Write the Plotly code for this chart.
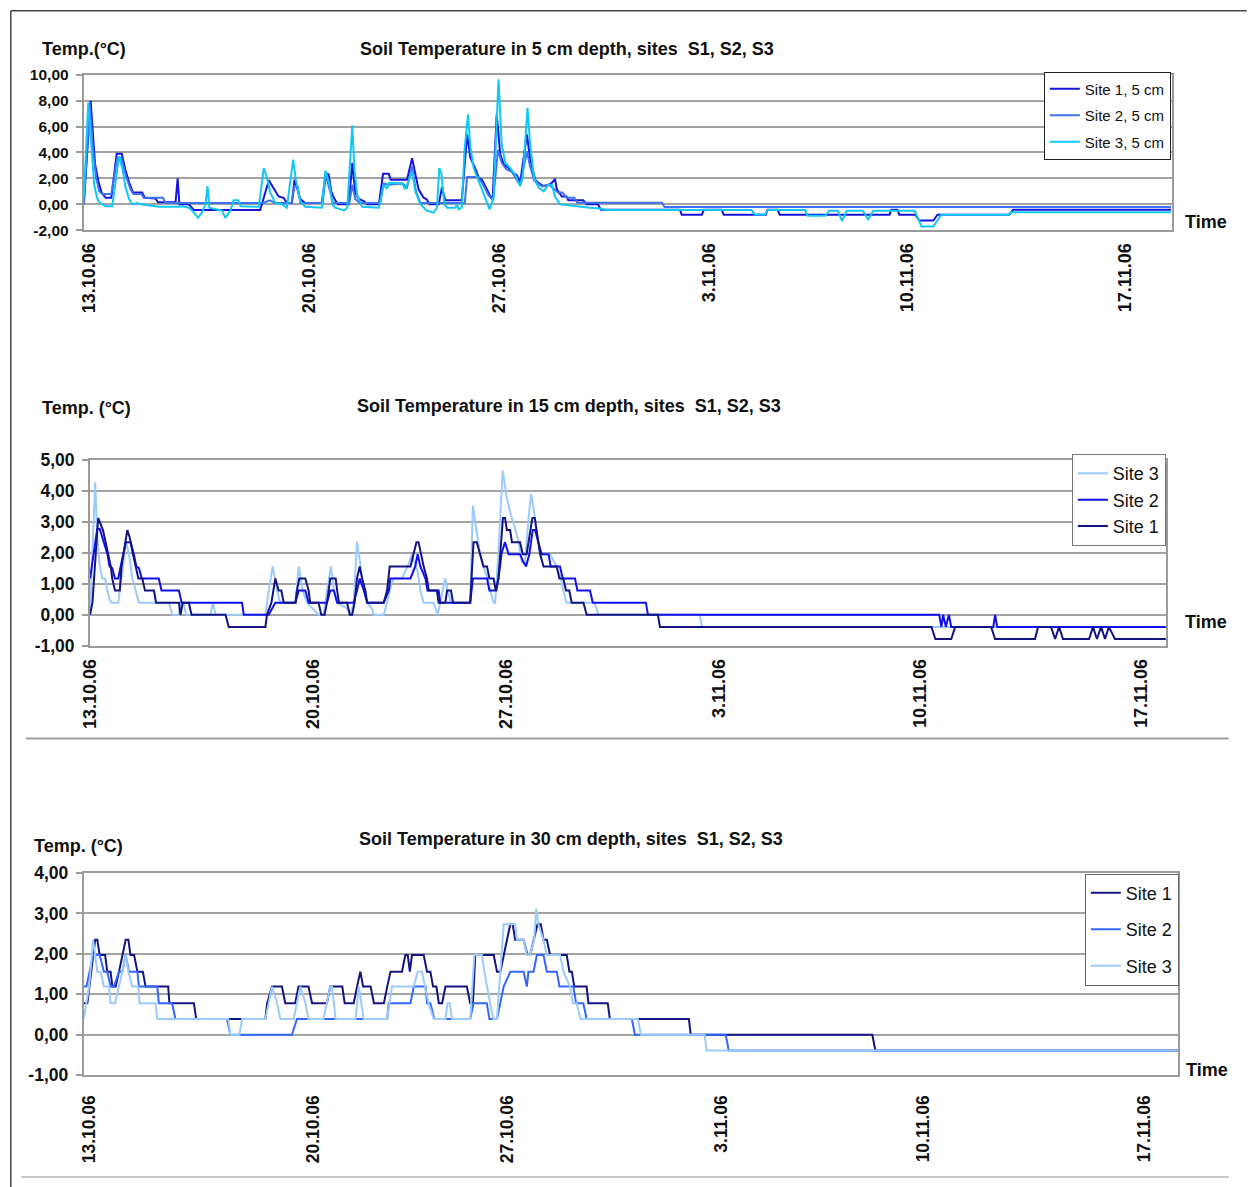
import plotly.graph_objects as go

# Measured in the previous renders: a figure pixel (fx, fy) lands on the photo at
# (OX + SX*fx, OY + SY*fy).  All layout positions below are reference-photo pixels and
# are converted through this mapping.
OX, OY, SX, SY = 8.8, 10.5, 0.994, 0.982
W, H = 1247, 1198
FONT = "Liberation Sans, Arial, sans-serif"

# ---------------- shared x-axis labels (category positions) ----
TICK_POS = [0, 7.43, 13.87, 20.96, 27.66, 35]
TICK_TEXT = ["13.10.06", "20.10.06", "27.10.06", "3.11.06", "10.11.06", "17.11.06"]

# ---------------- 5 cm depth -------------------------------------------------------
Y5_TICKS = [-2, 0, 2, 4, 6, 8, 10]
P5_S1 = [(-0.17,0),(0.06,8.0),(0.21,3.1),(0.32,1.8),(0.43,0.9),(0.57,0.5),(0.76,0.5),(0.94,3.9),(1.11,3.9),
         (1.24,2.6),(1.36,1.7),(1.49,0.9),(1.80,0.9),(1.89,0.5),(2.25,0.45),(2.34,0.15),(2.93,0.15),(3.00,2.0),
         (3.06,0),(3.38,0),(3.55,-0.45),(5.79,-0.45),(6.08,1.85),(6.30,1.0),(6.41,0.6),(6.58,0.5),(6.69,0.1),
         (6.86,0.1),(6.95,1.9),(7.03,1.3),(7.14,0.4),(7.31,0.1),(7.87,0.1),(8.01,2.4),(8.10,2.3),(8.19,1.0),
         (8.30,0.4),(8.41,0),(8.78,0),(8.90,3.2),(9.00,0.9),(9.12,0.4),(9.29,0.25),(9.40,0),(9.80,0),(9.94,2.35),
         (10.13,2.35),(10.20,1.9),(10.75,1.9),(10.92,3.55),(11.03,2.3),(11.14,1.15),(11.31,0.5),(11.42,0.37),
         (11.51,0),(11.82,0),(11.93,1.3),(12.04,0.3),(12.60,0.3),(12.78,5.4),(12.89,3.6),(13.05,2.8),(13.17,2.05),
         (13.28,1.9),(13.45,1.15),(13.56,0.6),(13.64,0.4),(13.78,6.95),(13.90,3.85),(14.01,3.1),(14.18,2.8),
         (14.35,2.4),(14.46,2.25),(14.57,1.65),(14.80,5.4),(14.91,3.5),(15.08,1.9),(15.19,1.65),(15.36,1.4),
         (15.53,1.5),(15.64,1.65),(15.75,1.95),(15.81,1.15),(15.98,0.6),(16.14,0.6),(16.20,0.3),(16.70,0.3),
         (16.82,0),(17.20,0),(17.30,-0.43),(19.97,-0.43),(20.03,-0.81),(20.71,-0.81),(20.78,-0.43),(21.38,-0.43),
         (21.45,-0.81),(22.87,-0.81),(22.93,-0.43),(23.27,-0.43),(23.34,-0.81),(27.05,-0.81),(27.11,-0.43),
         (27.32,-0.43),(27.38,-0.81),(27.92,-0.81),(28.06,-1.26),(28.53,-1.26),(28.67,-0.81),(31.09,-0.81),
         (31.23,-0.43),(36.56,-0.43)]
P5_S2 = [(-0.17,0),(0.03,7.8),(0.15,4.0),(0.25,2.0),(0.35,1.0),(0.45,0.8),(0.76,0.8),(0.96,3.6),(1.10,3.6),
         (1.25,2.2),(1.40,1.2),(1.50,0.8),(1.78,0.8),(1.85,0.5),(2.50,0.5),(2.60,0.1),(5.90,0.1),(6.10,0.3),
         (6.30,0.1),(6.85,0.1),(6.95,1.4),(7.05,1.4),(7.15,0.1),(7.90,0.1),(8.00,2.3),(8.10,1.5),(8.25,0.1),
         (8.80,0.1),(8.90,1.5),(9.00,0.4),(9.15,0.1),(9.85,0.1),(9.95,1.6),(10.10,1.5),(10.60,1.6),(10.75,1.3),
         (10.92,2.9),(11.05,1.0),(11.20,0.1),(12.70,0.1),(12.78,2.1),(13.15,2.1),(13.30,1.6),(13.50,0.7),
         (13.66,0.3),(13.82,4.2),(13.95,3.2),(14.10,2.7),(14.30,2.5),(14.50,1.7),(14.57,1.5),(14.80,4.1),
         (14.90,3.0),(15.05,1.8),(15.30,1.4),(15.55,1.5),(15.70,1.2),(15.85,0.9),(16.00,0.9),(16.15,0.5),
         (16.40,0.5),(16.50,0.12),(19.36,0.12),(19.45,-0.22),(36.56,-0.22)]
P5_S3 = [(-0.17,0.5),(-0.02,7.85),(0.10,4.1),(0.18,1.5),(0.29,0.4),(0.40,0.05),(0.57,-0.15),(0.79,-0.15),
         (1.02,3.7),(1.13,2.8),(1.24,1.3),(1.36,0.4),(1.47,0),(1.64,0.1),(1.75,0),(2.37,-0.2),(3.04,-0.2),
         (3.15,-0.15),(3.38,-0.27),(3.55,-0.65),(3.69,-1.05),(3.83,-0.6),(3.94,0),(4.01,1.4),(4.07,-0.27),
         (4.28,-0.4),(4.50,-0.5),(4.61,-1.05),(4.78,-0.5),(4.89,0.3),(5.04,0.3),(5.12,-0.15),(5.74,-0.2),
         (5.91,2.8),(6.02,2.0),(6.13,0.9),(6.30,0.1),(6.52,0),(6.69,-0.27),(6.90,3.45),(7.00,1.8),(7.14,0.25),
         (7.31,-0.2),(7.87,-0.27),(7.99,2.6),(8.12,1.65),(8.23,0),(8.32,-0.27),(8.62,-0.48),(8.73,-0.27),
         (8.82,2.8),(8.90,6.1),(8.97,2.8),(9.06,0.75),(9.23,-0.2),(9.80,-0.27),(9.96,1.5),(10.08,1.2),
         (10.13,1.65),(10.58,1.6),(10.69,1.15),(10.92,2.55),(11.03,1.0),(11.20,0),(11.42,-0.5),(11.65,-0.65),
         (11.76,-0.27),(11.84,2.8),(11.91,2.4),(12.01,0),(12.10,-0.27),(12.38,-0.27),(12.44,0),(12.49,-0.4),
         (12.60,-0.27),(12.69,4.1),(12.81,6.95),(12.89,4.4),(13.00,2.8),(13.17,1.8),(13.34,0.9),(13.47,0),
         (13.54,-0.4),(13.67,0.5),(13.84,9.65),(13.95,4.6),(14.07,3.2),(14.23,2.8),(14.40,2.3),(14.57,1.4),
         (14.66,2.05),(14.82,7.45),(14.91,4.6),(15.04,2.05),(15.19,1.3),(15.36,1.0),(15.53,1.5),(15.64,1.5),
         (15.75,0.6),(15.92,0),(16.26,-0.1),(16.70,-0.2),(16.93,-0.27),(17.27,-0.33),(17.50,-0.45),(22.39,-0.45),
         (22.50,-0.8),(22.85,-0.8),(22.95,-0.45),(24.20,-0.45),(24.28,-0.9),(24.89,-0.9),(25.00,-0.5),(25.30,-0.5),
         (25.45,-1.3),(25.60,-0.5),(26.15,-0.5),(26.33,-1.2),(26.50,-0.5),(27.90,-0.5),(28.13,-1.72),(28.53,-1.72),
         (28.80,-0.81),(31.09,-0.81),(31.15,-0.62),(36.56,-0.62)]

# ---------------- 15 cm depth ------------------------------------------------------
Y15_TICKS = [-1, 0, 1, 2, 3, 4, 5]
P15_S1 = [(0,0),(0.08,0.39),(0.27,3.12),(0.35,2.93),(0.43,2.73),(0.52,2.34),(0.61,1.95),(0.69,1.56),(0.74,1.17),
          (0.83,0.78),(0.99,0.78),(1.05,1.56),(1.24,2.73),(1.32,2.5),(1.43,1.95),(1.52,1.56),(1.61,1.17),(1.74,1.17),
          (1.83,0.78),(2.13,0.78),(2.20,0.39),(2.96,0.39),(3.01,0),(3.09,0.39),(3.29,0.39),(3.38,0),(4.51,0),
          (4.62,-0.39),(5.84,-0.39),(5.89,0),(6.04,0.39),(6.17,1.17),(6.28,0.78),(6.37,0.78),(6.45,0.39),(6.84,0.39),
          (6.89,0.78),(6.97,1.17),(7.17,1.17),(7.28,0.78),(7.33,0.39),(7.61,0.39),(7.70,0),(7.81,0),(7.89,0.39),
          (8.00,1.17),(8.18,1.17),(8.23,0.78),(8.29,0.39),(8.56,0.39),(8.65,0),(8.73,0),(8.81,0.39),(8.89,1.17),
          (8.98,1.56),(9.06,1.17),(9.17,0.78),(9.23,0.39),(9.78,0.39),(9.89,0.78),(9.98,1.56),(10.67,1.56),
          (10.78,1.95),(10.87,2.34),(10.94,2.34),(11.02,1.95),(11.11,1.56),(11.22,1.17),(11.28,0.78),(11.55,0.78),
          (11.61,0.39),(11.83,0.39),(11.89,0.78),(12.02,0.78),(12.09,0.39),(12.66,0.39),(12.77,2.34),(12.88,2.34),
          (12.99,1.95),(13.10,1.56),(13.22,1.56),(13.30,1.17),(13.44,1.17),(13.51,0.78),(13.60,1.17),(13.75,3.12),
          (13.82,3.12),(13.88,2.73),(13.99,2.73),(14.05,2.34),(14.32,2.34),(14.41,1.95),(14.54,1.95),(14.66,2.73),
          (14.73,3.12),(14.81,3.12),(14.90,2.5),(14.99,1.95),(15.10,1.56),(15.54,1.56),(15.63,1.17),(15.76,1.17),
          (15.85,0.78),(15.96,0.78),(16.04,0.39),(16.43,0.39),(16.54,0),(18.91,0),(18.98,-0.39),(28.02,-0.39),
          (28.15,-0.78),(28.68,-0.78),(28.81,-0.39),(30.01,-0.39),(30.14,-0.78),(31.47,-0.78),(31.57,-0.39),
          (32.00,-0.39),(32.14,-0.78),(32.27,-0.39),(32.40,-0.78),(33.27,-0.78),(33.40,-0.39),(33.53,-0.78),
          (33.67,-0.39),(33.80,-0.78),(33.93,-0.39),(34.13,-0.78),(35.83,-0.78)]
P15_S2 = [(0,1.17),(0.24,2.77),(0.32,2.77),(0.47,2.34),(0.58,1.95),(0.65,1.56),(0.74,1.5),(0.83,1.17),(0.94,1.17),
          (1.02,1.56),(1.19,2.34),(1.35,2.34),(1.46,1.95),(1.54,1.56),(1.63,1.5),(1.72,1.17),(2.29,1.17),(2.38,0.78),
          (2.96,0.78),(3.05,0.39),(5.06,0.39),(5.12,0),(5.95,0),(6.17,0.39),(6.84,0.39),(6.95,0.78),(7.17,0.78),
          (7.28,0.39),(7.89,0.39),(8.00,0.78),(8.12,0.78),(8.23,0.39),(8.78,0.39),(8.89,0.78),(8.98,1.17),(9.12,0.78),
          (9.23,0.39),(9.78,0.39),(9.95,0.78),(10.00,1.17),(10.67,1.17),(10.83,1.56),(10.91,1.95),(11.00,1.56),
          (11.17,1.17),(11.24,0.78),(11.61,0.78),(11.66,0.39),(12.66,0.39),(12.75,1.17),(13.22,1.17),(13.30,0.78),
          (13.53,0.78),(13.60,1.17),(13.71,2.0),(13.82,2.34),(13.94,1.95),(14.32,1.95),(14.43,1.7),(14.52,1.56),
          (14.63,1.95),(14.74,2.73),(14.82,2.73),(14.93,2.34),(15.04,1.95),(15.27,1.95),(15.34,1.56),(15.65,1.56),
          (15.74,1.17),(16.15,1.17),(16.23,0.78),(16.65,0.78),(16.74,0.39),(18.51,0.39),(18.58,0),(28.28,0),
          (28.35,-0.39),(28.41,0),(28.50,-0.39),(28.60,0),(28.68,-0.39),(30.08,-0.39),(30.14,0),(30.21,-0.39),
          (35.83,-0.39)]
P15_S3 = [(0,0),(0.17,4.27),(0.24,2.55),(0.32,1.6),(0.41,1.17),(0.50,1.17),(0.58,0.78),(0.65,0.5),(0.72,0.39),
          (0.94,0.39),(1.05,1.17),(1.19,2.36),(1.30,1.95),(1.41,1.17),(1.52,0.78),(1.63,0.39),(2.63,0.39),(2.74,0),
          (2.96,0),(3.01,0.39),(3.12,0.39),(3.20,0),(4.01,0),(4.09,0.39),(4.18,0),(5.84,0),(5.95,0.78),(6.08,1.56),
          (6.23,0.78),(6.34,0.39),(6.84,0.39),(6.95,1.56),(7.08,0.78),(7.22,0.39),(7.61,0),(7.78,0),(7.89,0.78),
          (8.02,1.56),(8.12,0.78),(8.23,0.39),(8.56,0.2),(8.67,0),(8.78,0.39),(8.89,2.36),(9.01,1.56),(9.12,0.78),
          (9.23,0.39),(9.39,0.2),(9.45,0),(9.78,0),(9.89,0.39),(9.98,0.78),(10.11,1.17),(10.39,1.17),(10.50,1.4),
          (10.58,1.56),(10.72,1.95),(10.80,1.7),(10.91,1.4),(11.00,0.78),(11.11,0.39),(11.44,0.39),(11.58,0),
          (11.66,0.39),(11.83,1.17),(11.91,0.78),(12.02,0.39),(12.66,0.39),(12.75,3.52),(12.86,2.77),(12.99,1.95),
          (13.10,1.56),(13.24,1.17),(13.33,0.78),(13.44,0.39),(13.49,0.39),(13.60,2.0),(13.74,4.65),(13.88,3.75),
          (14.05,3.1),(14.16,2.77),(14.27,2.34),(14.38,1.7),(14.49,1.7),(14.60,3.1),(14.69,3.9),(14.79,3.3),
          (14.88,2.55),(14.99,1.95),(15.32,1.95),(15.45,1.7),(15.54,1.56),(15.68,1.17),(15.76,0.78),(15.87,0.39),
          (16.80,0.39),(16.93,0),(20.31,0),(20.38,-0.39),(35.83,-0.39)]

# ---------------- 30 cm depth ------------------------------------------------------
Y30_TICKS = [-1, 0, 1, 2, 3, 4]
P30_S1 = [(-0.17,0.78),(-0.05,0.78),(0.21,2.35),(0.28,2.35),(0.36,1.97),(0.54,1.97),(0.61,1.56),(0.72,1.56),
          (0.78,1.19),(0.89,1.19),(1.00,1.56),(1.11,1.97),(1.22,2.35),(1.31,2.35),(1.38,1.97),(1.50,1.97),(1.61,1.56),
          (1.79,1.56),(1.88,1.19),(2.63,1.19),(2.67,0.78),(3.48,0.78),(3.56,0.39),(5.85,0.39),(5.91,0.78),(6.07,1.19),
          (6.40,1.19),(6.51,0.78),(6.84,0.78),(6.95,1.19),(7.28,1.19),(7.40,0.78),(7.89,0.78),(8.00,1.19),(8.40,1.19),
          (8.48,0.78),(8.78,0.78),(8.89,1.19),(9.00,1.56),(9.09,1.19),(9.34,1.19),(9.45,0.78),(9.78,0.78),(9.89,1.19),
          (10.00,1.56),(10.38,1.56),(10.49,1.97),(10.57,1.97),(10.64,1.56),(10.71,1.97),(11.10,1.97),(11.21,1.56),
          (11.32,1.56),(11.41,1.19),(11.52,1.19),(11.60,0.78),(11.71,0.78),(11.82,1.19),(12.53,1.19),(12.64,0.78),
          (12.73,0.78),(12.81,1.97),(13.42,1.97),(13.53,1.56),(13.64,1.56),(13.86,2.35),(13.97,2.73),(14.05,2.73),
          (14.13,2.35),(14.41,2.35),(14.54,1.97),(14.63,1.97),(14.76,2.35),(14.87,2.73),(14.98,2.73),(15.07,2.35),
          (15.18,2.35),(15.29,1.97),(15.84,1.97),(15.93,1.56),(16.01,1.56),(16.09,1.19),(16.50,1.19),(16.56,0.78),
          (17.20,0.78),(17.27,0.39),(19.89,0.39),(19.95,0),(25.97,0),(26.07,-0.39),(36.10,-0.39)]
P30_S2 = [(-0.17,1.19),(-0.08,1.19),(0.14,1.97),(0.36,1.97),(0.50,1.56),(0.61,1.56),(0.72,1.19),(0.83,1.19),
          (1.00,1.56),(1.11,1.56),(1.22,1.97),(1.33,1.56),(1.61,1.56),(1.66,1.19),(2.27,1.19),(2.32,0.78),(2.76,0.78),
          (2.87,0.39),(4.58,0.39),(4.69,0),(6.73,0),(6.90,0.39),(9.89,0.39),(9.94,0.78),(10.66,0.78),(10.77,1.19),
          (11.16,1.19),(11.21,0.78),(11.32,0.78),(11.45,0.39),(12.64,0.39),(12.75,0.78),(13.19,0.78),(13.28,0.39),
          (13.53,0.39),(13.64,0.78),(13.75,1.19),(13.97,1.56),(14.41,1.56),(14.52,1.19),(14.57,1.56),(14.74,1.56),
          (14.85,1.97),(15.07,1.97),(15.18,1.56),(15.51,1.56),(15.60,1.19),(16.06,1.19),(16.15,0.78),(16.39,0.78),
          (16.50,0.39),(18.00,0.39),(18.10,0),(21.11,0),(21.21,-0.39),(36.10,-0.39)]
P30_S3 = [(-0.17,0.39),(0.01,1.19),(0.14,2.35),(0.28,1.56),(0.39,1.56),(0.50,1.19),(0.67,1.19),(0.72,0.78),
          (0.87,0.78),(1.00,1.19),(1.11,1.56),(1.22,1.97),(1.31,1.56),(1.44,1.19),(1.64,1.19),(1.68,0.78),(2.21,0.78),
          (2.27,0.39),(4.62,0.39),(4.69,0),(4.99,0),(5.08,0.39),(5.85,0.39),(5.96,0.78),(6.07,1.19),(6.24,0.78),
          (6.35,0.39),(6.79,0.39),(6.90,0.78),(7.01,1.19),(7.18,0.78),(7.28,0.39),(7.78,0.39),(7.89,0.78),(8.00,1.19),
          (8.06,1.19),(8.18,0.39),(8.84,0.39),(8.95,1.19),(9.03,0.78),(9.11,0.39),(9.89,0.39),(10.05,1.19),(10.77,1.19),
          (10.90,1.56),(11.04,1.56),(11.15,1.19),(11.26,0.78),(11.43,0.39),(11.82,0.39),(11.89,0.78),(11.96,0.78),
          (12.04,0.39),(12.64,0.39),(12.78,1.97),(13.03,1.97),(13.11,1.56),(13.19,1.19),(13.30,0.78),(13.41,0.39),
          (13.53,0.39),(13.64,1.56),(13.75,2.73),(14.13,2.73),(14.19,2.35),(14.41,2.35),(14.52,1.97),(14.63,1.97),
          (14.76,2.35),(14.83,3.12),(14.90,2.73),(15.07,2.35),(15.18,1.97),(15.62,1.97),(15.73,1.56),(15.95,1.19),
          (16.04,0.78),(16.17,0.78),(16.30,0.39),(18.20,0.39),(18.30,0),(20.41,0),(20.48,-0.39),(36.10,-0.39)]

# ---------------- helpers (layout only; photo pixel -> paper fraction) ---------------
def fx(px):
    return ((px - OX) / SX) / W

def fy(py):
    return 1 - ((py - OY) / SY) / H

def fmt(v):
    return f"{v:.2f}".replace(".", ",")

fig = go.Figure()

PANELS = [
    ([("Site 1, 5 cm", P5_S1, "#1414DC"), ("Site 2, 5 cm", P5_S2, "#3F70F0"), ("Site 3, 5 cm", P5_S3, "#10C8F5")],
     "", "legend"),
    ([("Site 3", P15_S3, "#9CCBFB"), ("Site 2", P15_S2, "#1010F0"), ("Site 1", P15_S1, "#141480")],
     "2", "legend2"),
    ([("Site 1", P30_S1, "#141480"), ("Site 2", P30_S2, "#3366FF"), ("Site 3", P30_S3, "#9CCBFB")],
     "3", "legend3"),
]

for series, sfx, leg in PANELS:
    for name, pts, col in series:
        fig.add_trace(go.Scatter(
            x=[p[0] for p in pts], y=[p[1] for p in pts], mode="lines", name=name,
            line=dict(color=col, width=2), xaxis="x" + sfx, yaxis="y" + sfx,
            legend=leg, legendgroup=leg + name, hoverinfo="skip"))

GRID = "#a3a3a3"
AX = "#9a9a9a"

def xaxis(domain, rng, standoff, size, anchor):
    return dict(domain=domain, range=rng, tickvals=TICK_POS, ticktext=TICK_TEXT, tickangle=-90,
                showgrid=False, zeroline=False, showline=True, mirror=True, linecolor=AX, linewidth=2,
                ticks="", ticklabelstandoff=standoff, anchor=anchor,
                tickfont=dict(family=FONT, size=size, color="#111", weight="bold"))

def yaxis(domain, ticks, size, anchor):
    return dict(domain=domain, range=[ticks[0], ticks[-1]], tickvals=ticks, ticktext=[fmt(t) for t in ticks],
                showgrid=True, gridcolor=GRID, gridwidth=2, zeroline=False, showline=True, mirror=True,
                linecolor=AX, linewidth=2, ticks="outside", ticklen=6, tickcolor=AX, tickwidth=2,
                ticklabelstandoff=4, anchor=anchor,
                tickfont=dict(family=FONT, size=size, color="#111", weight="bold"))

fig.update_layout(
    width=W, height=H, margin=dict(l=0, r=0, t=0, b=0),
    paper_bgcolor="white", plot_bgcolor="white",
    xaxis=xaxis([fx(82.7), fx(1172.7)], [-0.172, 36.578], 4, 18, "y"),
    yaxis=yaxis([fy(230.3), fy(75.3)], Y5_TICKS, 15.5, "x"),
    xaxis2=xaxis([fx(89), fx(1167)], [0, 35.826], 4, 18, "y2"),
    yaxis2=yaxis([fy(645.5), fy(459.5)], Y15_TICKS, 17.5, "x2"),
    xaxis3=xaxis([fx(82.7), fx(1179)], [-0.169, 36.096], 11, 17.5, "y3"),
    yaxis3=yaxis([fy(1074.3), fy(872.3)], Y30_TICKS, 17.5, "x3"),
    legend=dict(x=fx(1172), xanchor="right", y=fy(72), yanchor="top", bgcolor="white",
                bordercolor="#222", borderwidth=1, tracegroupgap=4, traceorder="grouped",
                font=dict(family=FONT, size=15, color="#111")),
    legend2=dict(x=fx(1167), xanchor="right", y=fy(454), yanchor="top", bgcolor="white",
                 bordercolor="#777", borderwidth=1, tracegroupgap=0, traceorder="grouped",
                 font=dict(family=FONT, size=18, color="#111")),
    legend3=dict(x=fx(1180), xanchor="right", y=fy(873), yanchor="top", bgcolor="white",
                 bordercolor="#666", borderwidth=1, tracegroupgap=10, traceorder="grouped",
                 font=dict(family=FONT, size=18, color="#111")),
    showlegend=True,
)

TXT = dict(family=FONT, size=18, color="#111", weight="bold")
ANN = [
    ("Temp.(°C)", 39, 49, "left"),
    ("Soil Temperature in 5 cm depth, sites\u00a0 S1, S2, S3", 566.5, 49, "center"),
    ("Time", 1184, 222, "left"),
    ("Temp. (°C)", 39, 408, "left"),
    ("Soil Temperature in 15 cm depth, sites\u00a0 S1, S2, S3", 569, 406, "center"),
    ("Time", 1184, 622, "left"),
    ("Temp. (°C)", 31, 845, "left"),
    ("Soil Temperature in 30 cm depth, sites\u00a0 S1, S2, S3", 571, 838, "center"),
    ("Time", 1185, 1069, "left"),
]
for text, x, y, anc in ANN:
    fig.add_annotation(text=text, x=fx(x), y=fy(y), xref="paper", yref="paper", xanchor=anc,
                       yanchor="middle", showarrow=False, font=TXT)

SHAPES = [
    (9.6, 11.3, 1248, 11.3, "#444", 1.5),
    (9.6, 11.3, 9.6, 1187, "#444", 1.5),
    (25, 738, 1230, 738, "#a0a0a0", 2),
    (20, 1176, 1230, 1176, "#c8c8c8", 2),
]
for x0, y0, x1, y1, c, w in SHAPES:
    fig.add_shape(type="line", xref="paper", yref="paper", x0=fx(x0), y0=fy(y0), x1=fx(x1), y1=fy(y1),
                  line=dict(color=c, width=w))

fig.write_html("out.html")
